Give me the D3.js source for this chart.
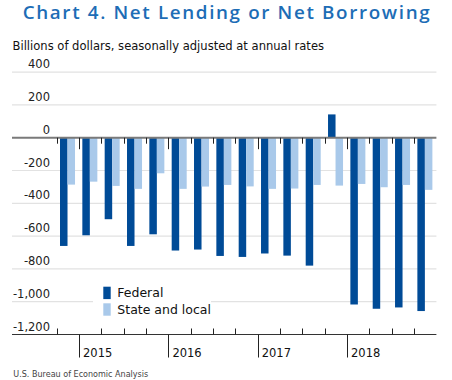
<!DOCTYPE html>
<html><head><meta charset="utf-8">
<script src="https://cdn.jsdelivr.net/npm/d3@7"></script>
<style>
html,body{margin:0;padding:0;background:#fff;}
svg{display:block;}
text{font-family:"DejaVu Sans",sans-serif;}
</style></head>
<body>
<svg id="chart" width="452" height="380"></svg>
<script>
const quarters = ["2014 Q4","2015 Q1","2015 Q2","2015 Q3","2015 Q4","2016 Q1","2016 Q2","2016 Q3","2016 Q4","2017 Q1","2017 Q2","2017 Q3","2017 Q4","2018 Q1","2018 Q2","2018 Q3","2018 Q4"];
const federal = [-660,-595,-497,-660,-589,-688,-682,-721,-727,-706,-719,-780,142,-1017,-1043,-1035,-1057];
const stateLocal = [-286,-268,-294,-312,-217,-312,-298,-288,-297,-312,-310,-288,-292,-282,-302,-288,-318];
const seriesNames = ["Federal","State and local"];
const yTicks = [400,200,0,-200,-400,-600,-800,-1000,-1200];
const titleText = "Chart 4. Net Lending or Net Borrowing";
const subtitleText = "Billions of dollars, seasonally adjusted at annual rates";
const sourceText = "U.S. Bureau of Economic Analysis";

const colors = {federal:"#004b97", state:"#a9c9ea", title:"#1d6db6"};
const svg = d3.select("#chart");

function fitText(sel, targetW){
  const w = sel.node().getComputedTextLength();
  const fs = parseFloat(sel.attr("font-size"));
  sel.attr("font-size", (fs*targetW/w).toFixed(2));
}
function spaceText(sel, targetW, n){
  const w = sel.node().getComputedTextLength();
  sel.attr("letter-spacing", ((targetW - w)/(n-1)).toFixed(3));
}

// Title
const t = svg.append("text").attr("x",22.7).attr("y",19.2)
  .attr("font-size",18.8).attr("font-weight",600).style("font-family","'Open Sans',sans-serif")
  .attr("fill",colors.title).text(titleText);
spaceText(t, 407, titleText.length);
const st = svg.append("text").attr("x",12.5).attr("y",49.5).attr("font-size",12).attr("fill","#111").text(subtitleText);
fitText(st, 312);

const left = 12, right = 436.4;
const y = d3.scaleLinear().domain([-1200,400]).range([334.5,72.1]);
const x = d3.scaleBand().domain(quarters).range([56.7,436.4]).padding(0);
const bw = x.bandwidth();
const xs = d3.scaleBand().domain(seriesNames).range([bw*0.148, bw*0.82]).padding(0);

// gridlines
svg.append("g").selectAll("line").data(yTicks.filter(v=>v!==0 && v!==-1200)).join("line")
  .attr("x1",left).attr("x2",right).attr("y1",d=>y(d)).attr("y2",d=>y(d))
  .attr("stroke","#e2e2e2").attr("stroke-width",1.2);

// y labels
const fmt = d => d<0 ? "-"+d3.format(",")(-d) : d3.format(",")(d);
svg.append("g").selectAll("text").data(yTicks).join("text")
  .attr("x",50).attr("y",d=>y(d)-4).attr("text-anchor","end")
  .attr("font-size",11.5).attr("fill","#222").text(fmt);

// legend background
const lg = svg.append("g");
lg.append("rect").attr("x",93).attr("y",279).attr("width",118).attr("height",42).attr("fill","#fff");

// bars
const data = quarters.map((q,i)=>({q, vals:[{k:seriesNames[0],v:federal[i]},{k:seriesNames[1],v:stateLocal[i]}]}));
const g = svg.append("g");
g.selectAll("g").data(data).join("g").attr("transform",d=>`translate(${x(d.q)},0)`)
  .selectAll("rect").data(d=>d.vals).join("rect")
  .attr("x",d=>xs(d.k)).attr("width",xs.bandwidth())
  .attr("y",d=>Math.min(y(d.v),y(0))).attr("height",d=>Math.abs(y(d.v)-y(0)))
  .attr("fill",(d,i)=>i===0?colors.federal:colors.state);

// zero line
svg.append("line").attr("x1",left).attr("x2",right).attr("y1",y(0)).attr("y2",y(0))
  .attr("stroke","#7a7a7a").attr("stroke-width",2);
// bottom axis line
svg.append("line").attr("x1",left).attr("x2",right).attr("y1",y(-1200)).attr("y2",y(-1200))
  .attr("stroke","#333").attr("stroke-width",1);

const isQ1 = q => q.endsWith("Q1");
// ticks at zero
svg.append("g").selectAll("line").data(quarters).join("line")
  .attr("x1",d=>Math.round(x(d))+0.5).attr("x2",d=>Math.round(x(d))+0.5)
  .attr("y1",y(0)).attr("y2",d=>y(0)+(isQ1(d)?11.5:6))
  .attr("stroke","#222").attr("stroke-width",1);
// ticks at bottom
svg.append("g").selectAll("line").data(quarters).join("line")
  .attr("x1",d=>Math.round(x(d))+0.5).attr("x2",d=>Math.round(x(d))+0.5)
  .attr("y1",y(-1200)).attr("y2",d=>isQ1(d)?y(-1200)+23:y(-1200)-6)
  .attr("stroke","#222").attr("stroke-width",1);
// year labels
svg.append("g").selectAll("text").data(quarters.filter(isQ1)).join("text")
  .attr("x",d=>x(d)+4).attr("y",356.5).attr("font-size",11.5).attr("fill","#111")
  .text(d=>d.slice(0,4));

// legend
const items = [{name:seriesNames[0],c:colors.federal,y:286.7},{name:seriesNames[1],c:colors.state,y:303.3}];
items.forEach(it=>{
  lg.append("rect").attr("x",103.3).attr("y",it.y).attr("width",7.4).attr("height",12.4).attr("fill",it.c);
  lg.append("text").attr("x",117.3).attr("y",it.y+10.3).attr("font-size",12.5).attr("fill","#111").text(it.name);
});
lg.raise();
const srcT = svg.append("text").attr("x",13.3).attr("y",377).attr("font-size",9.5).attr("fill","#444").text(sourceText);
fitText(srcT, 135);
</script>
</body></html>
